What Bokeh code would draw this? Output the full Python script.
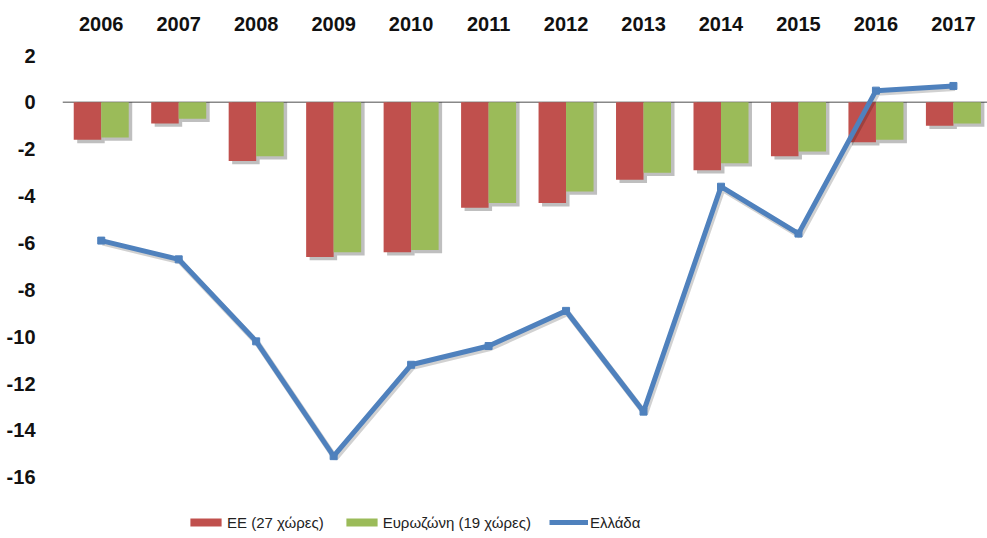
import numpy as np
from bokeh.plotting import figure
from bokeh.models import Range1d, FixedTicker, Span, Legend, LegendItem
from bokeh.embed import file_html
from bokeh.resources import INLINE

years = ["2006", "2007", "2008", "2009", "2010", "2011",
         "2012", "2013", "2014", "2015", "2016", "2017"]
ee = [-1.6, -0.9, -2.5, -6.6, -6.4, -4.5, -4.3, -3.3, -2.9, -2.3, -1.7, -1.0]
ez = [-1.5, -0.7, -2.3, -6.4, -6.3, -4.3, -3.8, -3.0, -2.6, -2.1, -1.6, -0.9]
gr = [-5.9, -6.7, -10.2, -15.1, -11.2, -10.4, -8.9, -13.2, -3.6, -5.6, 0.5, 0.7]
y_ticks = [2, 0, -2, -4, -6, -8, -10, -12, -14, -16]
y_tick_labels = ["2", "0", "-2", "-4", "-6", "-8", "-10", "-12", "-14", "-16"]

labels = ["EE (27 χώρες)", "Ευρωζώνη (19 χώρες)", "Ελλάδα"]

RED = "#C0504D"
GREEN = "#9BBB59"
BLUE = "#4F81BD"
FONT = "Liberation Sans"

idx = np.arange(len(years))
bw = 0.355

W, H = 987, 538
TOP = 55
px_per_unit = 23.43
frame_h = H - TOP
y_start = 2 - frame_h / px_per_unit

p = figure(width=W, height=H, output_backend="svg", toolbar_location=None,
           x_range=Range1d(-0.5, 11.44), y_range=Range1d(y_start, 2),
           x_axis_location="above",
           min_border_left=62, min_border_right=0,
           min_border_top=TOP, min_border_bottom=0)
p.outline_line_color = None
p.background_fill_color = "white"
p.border_fill_color = "white"
p.xgrid.visible = False
p.ygrid.visible = False

# soft shadows
sh_dx, sh_dy = 0.045, 0.14
p.vbar(x=idx - bw / 2 + sh_dx, width=bw, top=np.array(ee) - sh_dy, bottom=0,
       fill_color="black", fill_alpha=0.25, line_color=None)
p.vbar(x=idx + bw / 2 + sh_dx, width=bw, top=np.array(ez) - sh_dy, bottom=0,
       fill_color="black", fill_alpha=0.25, line_color=None)

r_ee = p.vbar(x=idx - bw / 2, width=bw, top=ee, bottom=0,
              fill_color=RED, line_color=None)
r_ez = p.vbar(x=idx + bw / 2, width=bw, top=ez, bottom=0,
              fill_color=GREEN, line_color=None)

zero = Span(location=0, dimension="width", line_color="#888888",
            line_width=1.5, level="underlay")
p.add_layout(zero)

p.line(idx + 0.02, np.array(gr) - 0.09, line_color="black", line_alpha=0.18,
       line_width=6)
r_gr = p.line(idx, gr, line_color=BLUE, line_width=5)
r_gm = p.scatter(idx, gr, marker="square", size=7, fill_color=BLUE,
                 line_color=BLUE)

xa = p.xaxis[0]
xa.ticker = FixedTicker(ticks=list(idx))
xa.major_label_overrides = {int(i): y for i, y in zip(idx, years)}
xa.axis_line_color = None
xa.major_tick_line_color = None
xa.minor_tick_line_color = None
xa.major_label_text_font = FONT
xa.major_label_text_font_style = "bold"
xa.major_label_text_font_size = "20px"
xa.major_label_text_color = "#111111"
xa.major_label_standoff = 19

ya = p.yaxis[0]
ya.ticker = FixedTicker(ticks=y_ticks)
ya.major_label_overrides = {t: s for t, s in zip(y_ticks, y_tick_labels)}
ya.axis_line_color = None
ya.major_tick_line_color = None
ya.minor_tick_line_color = None
ya.major_label_text_font = FONT
ya.major_label_text_font_style = "bold"
ya.major_label_text_font_size = "20px"
ya.major_label_text_color = "#111111"
ya.major_label_standoff = 21

legend = Legend(items=[LegendItem(label=labels[0], renderers=[r_ee]),
                       LegendItem(label=labels[1], renderers=[r_ez]),
                       LegendItem(label=labels[2], renderers=[r_gr, r_gm])],
                orientation="horizontal", location=(124, 7),
                padding=0, margin=0, spacing=18, label_standoff=2,
                glyph_width=39, glyph_height=10, label_height=18,
                border_line_color=None, background_fill_alpha=0,
                label_text_font=FONT, label_text_font_size="15px",
                label_text_color="#222222")
p.add_layout(legend)

open("out.html", "w").write(file_html(p, INLINE))
